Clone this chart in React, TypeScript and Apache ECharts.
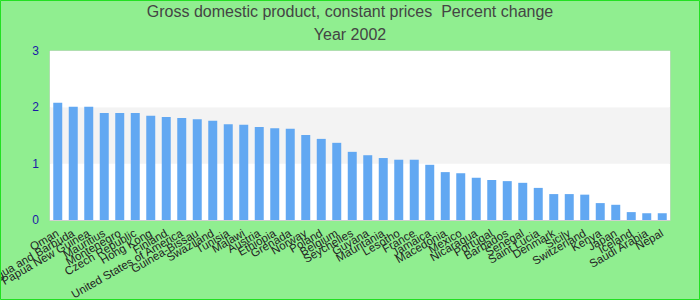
import React, { useEffect, useRef } from "react";
import * as echarts from "echarts";

const titleText = "Gross domestic product, constant prices  Percent change";
const subtitleText = "Year 2002";

const countries = [
  "Oman", "Antigua and Barbuda", "Papua New Guinea", "Mauritius", "Montenegro",
  "Czech Republic", "Hong Kong", "Finland", "United States of America", "Guinea-Bissau",
  "Swaziland", "Tunisia", "Malawi", "Austria", "Ethiopia",
  "Grenada", "Norway", "Poland", "Belgium", "Seychelles",
  "Guyana", "Mauritania", "Lesotho", "France", "Jamaica",
  "Macedonia", "Mexico", "Nicaragua", "Portugal", "Barbados",
  "Senegal", "Saint Lucia", "Denmark", "Sicily", "Switzerland",
  "Kenya", "Japan", "Iceland", "Saudi Arabia", "Nepal",
];

const growth = [
  2.08, 2.01, 2.01, 1.9, 1.9,
  1.9, 1.85, 1.83, 1.81, 1.79,
  1.76, 1.7, 1.69, 1.65, 1.63,
  1.62, 1.51, 1.44, 1.37, 1.21,
  1.15, 1.1, 1.07, 1.07, 0.98,
  0.85, 0.83, 0.75, 0.71, 0.69,
  0.66, 0.57, 0.46, 0.46, 0.45,
  0.3, 0.27, 0.14, 0.12, 0.12,
];

const yTicks = { min: 0, max: 3, interval: 1 };

export default function App() {
  const ref = useRef<HTMLDivElement>(null);
  useEffect(() => {
    document.body.style.margin = "0";
    const chart = echarts.init(ref.current!, null, { renderer: "svg" });
    chart.setOption({
      animation: false,
      backgroundColor: "#90EE90",
      textStyle: { fontFamily: "Liberation Sans, Arial, sans-serif" },
      title: {
        text: titleText + "\n" + subtitleText,
        left: "center",
        top: -5,
        textStyle: {
          fontSize: 16,
          fontWeight: "normal",
          color: "#444",
          lineHeight: 23,
          fontFamily: "Liberation Sans, Arial, sans-serif",
        },
      },
      graphic: [
        {
          type: "rect",
          shape: { x: 0.5, y: 0.5, width: 699, height: 299 },
          style: { fill: "none", stroke: "#22e022", lineWidth: 1 },
          silent: true,
          z: 100,
        },
      ],
      grid: {
        left: 50,
        right: 30,
        top: 51,
        bottom: 80,
        containLabel: false,
        outerBoundsMode: "none",
        show: true,
        backgroundColor: "#fff",
        borderColor: "#d0d0d0",
        borderWidth: 1,
      },
      xAxis: {
        type: "category",
        data: countries,
        axisTick: { show: false },
        axisLine: { show: true, lineStyle: { color: "#d0d0d0", width: 1 } },
        axisLabel: {
          interval: 0,
          rotate: 30,
          fontSize: 11.5,
          color: "#222",
          margin: 12,
          hideOverlap: false,
        },
      },
      yAxis: {
        type: "value",
        min: yTicks.min,
        max: yTicks.max,
        interval: yTicks.interval,
        axisLine: { show: false },
        axisTick: { show: false },
        splitLine: { show: false },
        splitArea: { show: true, areaStyle: { color: ["#ffffff", "#f3f3f3"] } },
        axisLabel: { fontSize: 12, color: "#1a1aa6", margin: 11 },
      },
      series: [
        {
          type: "bar",
          data: growth,
          barWidth: "58%",
          itemStyle: { color: "#62a8f2" },
        },
      ],
    });
    return () => chart.dispose();
  }, []);
  return <div ref={ref} style={{ width: 700, height: 300 }} />;
}
